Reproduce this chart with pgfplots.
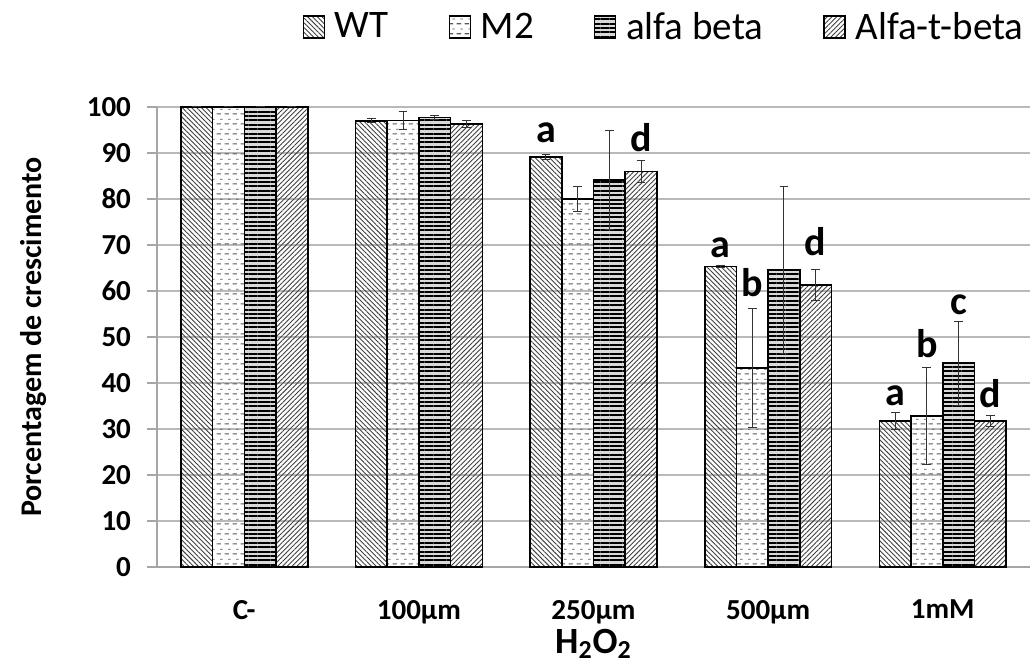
\documentclass[border=0pt]{standalone}
\usepackage{fontspec}
\setmainfont{Carlito}
\usepackage{pgfplots}
\pgfplotsset{compat=1.18}
\usetikzlibrary{patterns,patterns.meta}

\pgfdeclarepatternformonly{mdash}{\pgfpoint{0pt}{0pt}}{\pgfpoint{4pt}{5pt}}{\pgfpoint{4pt}{5pt}}{%
  \pgfsetlinewidth{0.6pt}%
  \pgfpathmoveto{\pgfpoint{0.3pt}{1.2pt}}\pgfpathlineto{\pgfpoint{2.7pt}{1.2pt}}%
  \pgfusepath{stroke}%
  \pgfsetlinewidth{0.45pt}%
  \pgfpathmoveto{\pgfpoint{2.3pt}{3.7pt}}\pgfpathlineto{\pgfpoint{3.7pt}{3.7pt}}%
  \pgfusepath{stroke}%
}

\pgfplotstableread{
x y e
0 100 0
1 97.0 0.4
2 89.1 0.6
3 65.3 0.3
4 31.7 1.9
}\wt
\pgfplotstableread{
x y e
0 100 0
1 97.1 2.0
2 80.0 2.7
3 43.3 12.9
4 32.8 10.6
}\mtwo
\pgfplotstableread{
x y e
0 100 0
1 97.7 0.4
2 84.1 10.7
3 64.6 18.2
4 44.3 9.1
}\ab
\pgfplotstableread{
x y e
0 100 0
1 96.3 0.7
2 86.0 2.4
3 61.3 3.4
4 31.7 1.2
}\atb

\begin{document}
\begin{tikzpicture}
\begin{axis}[
  scale only axis, width=436.5pt, height=230pt,
  xmin=-0.5, xmax=4.5, ymin=0, ymax=100,
  ybar=0pt, bar width=15.85pt,
  xtick={0,1,2,3,4}, xticklabels={C-,100µm,250µm,500µm,1mM},
  ytick={0,10,...,100},
  axis x line*=bottom, axis y line*=left,
  axis line style={draw=gray!70, line width=0.6pt},
  ymajorgrids, grid style={gray!55, line width=0.6pt},
  xtick style={draw=none},
  ytick style={draw=gray!70, line width=0.6pt},
  tick align=outside, major tick length=5pt,
  /pgf/number format/assume math mode=true,
  ticklabel style={font=\bfseries\fontsize{14.5}{16}\selectfont},
  xticklabel style={yshift=-8pt},
  yticklabel style={xshift=-4.5pt},
  every axis y label/.style={at={([xshift=-61.5pt]axis description cs:0,0.5)}, rotate=90, anchor=center},
  every axis x label/.style={at={([yshift=-38.5pt]axis description cs:0.5,0)}, anchor=center},
  ylabel={\bfseries\fontsize{15}{17}\selectfont Porcentagem de crescimento},
  xlabel={\bfseries\fontsize{18.5}{20}\selectfont H\textsubscript{2}O\textsubscript{2}},
  legend columns=4,
  legend style={draw=none, fill=none, at={(1,1)}, anchor=east, yshift=40pt, xshift=2pt,
    font=\fontsize{19.5}{21}\selectfont,
    /tikz/every odd column/.append style={column sep=3pt},
    /tikz/every even column/.append style={column sep=28pt}},
  legend image code/.code={\draw[#1, line width=0.6pt] (0pt,-5.5pt) rectangle (10.5pt,5.5pt);},
  error bars/y dir=both, error bars/y explicit,
  error bars/error mark=|,
  error bars/error bar style={black!80, line width=0.5pt},
  error bars/error mark options={mark size=2.2pt, line width=0.5pt, black!80},
  every axis plot/.append style={draw=black, line width=0.8pt},
  clip=false,
]
\addplot[pattern={Lines[angle=-45, distance=1.7pt, line width=0.45pt]}, pattern color=black!75]
  table[x=x, y=y, y error=e]{\wt};
\addplot[pattern=mdash, pattern color=black!65]
  table[x=x, y=y, y error=e]{\mtwo};
\addplot[fill=gray!30, postaction={pattern={Lines[angle=0, distance=2.2pt, line width=1.0pt]}, pattern color=black}]
  table[x=x, y=y, y error=e]{\ab};
\addplot[pattern={Lines[angle=45, distance=1.7pt, line width=0.45pt]}, pattern color=black!75]
  table[x=x, y=y, y error=e]{\atb};
\legend{WT, M2, alfa beta, Alfa-t-beta}

\tikzset{lt/.style={anchor=base, inner sep=0pt, font=\bfseries\fontsize{20}{20}\selectfont}}
\node[lt] at (axis cs:1.7276,92.2) {a};
\node[lt] at (axis cs:2.2724,90.3) {d};
\node[lt] at (axis cs:2.7276,67.2) {a};
\node[lt] at (axis cs:2.9092,58.8) {b};
\node[lt] at (axis cs:3.2724,67.8) {d};
\node[lt] at (axis cs:3.7276,35.0) {a};
\node[lt] at (axis cs:3.9092,45.6) {b};
\node[lt] at (axis cs:4.0908,54.9) {c};
\node[lt] at (axis cs:4.2724,34.7) {d};

\coordinate (ll) at (rel axis cs:0,0);
\coordinate (ur) at (rel axis cs:1,1);
\end{axis}
\pgfresetboundingbox
\path ([shift={(-78.5pt,-49.5pt)}]ll) rectangle ([shift={(2pt,53.5pt)}]ur);
\end{tikzpicture}
\end{document}
